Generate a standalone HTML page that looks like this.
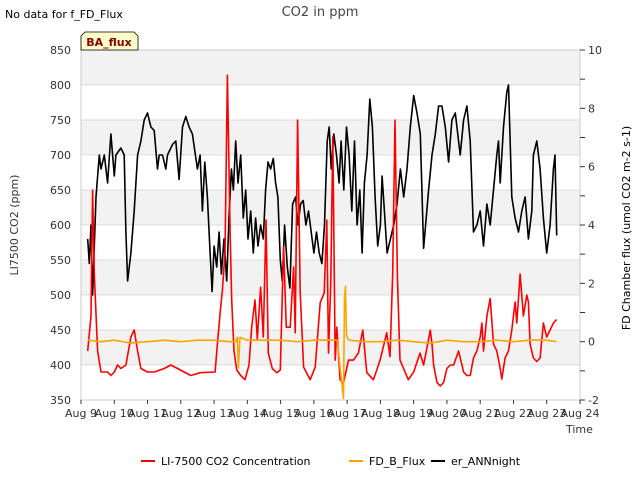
<!DOCTYPE html>
<html><head><meta charset="utf-8"><style>
body{margin:0;background:#fff;font-family:"Liberation Sans","DejaVu Sans",sans-serif;}
svg text{font-family:"DejaVu Sans","Liberation Sans",sans-serif;}
</style></head><body>
<svg id="chart" width="640" height="480" xmlns="http://www.w3.org/2000/svg">
<rect width="640" height="480" fill="#fff"/>
<g id="bands"></g>
<g id="grid"></g>
<rect x="81" y="50" width="499" height="350" fill="none" stroke="#ccc"/>
<g id="axes"></g>
<g id="series"></g>
<text x="320" y="16" font-size="13" fill="#444" text-anchor="middle">CO2 in ppm</text>
<text x="5" y="18" font-size="11" fill="#000">No data for f_FD_Flux</text>
<path d="M81,50 V36 l4,-4 h49 l4,4 V50 Z" fill="#ffffcc" stroke="#000" stroke-width="0.8"/>
<text x="109" y="46" font-size="11" font-weight="bold" fill="#8b0000" text-anchor="middle">BA_flux</text>
<text x="18" y="225" font-size="11" fill="#333" text-anchor="middle" transform="rotate(-90 18 225)">LI7500 CO2 (ppm)</text>
<text x="630" y="228" font-size="11" fill="#000" text-anchor="middle" transform="rotate(-90 630 228)">FD Chamber flux (umol CO2 m-2 s-1)</text>
<text x="566" y="433" font-size="11" fill="#333">Time</text>
<g>
<line x1="141" y1="461" x2="155" y2="461" stroke="#ff0000" stroke-width="2"/>
<text x="161" y="465" font-size="11" fill="#000">LI-7500 CO2 Concentration</text>
<line x1="349" y1="461" x2="363" y2="461" stroke="#ffa500" stroke-width="2"/>
<text x="369" y="465" font-size="11" fill="#000">FD_B_Flux</text>
<line x1="431" y1="461" x2="445" y2="461" stroke="#000" stroke-width="2"/>
<text x="451" y="465" font-size="11" fill="#000">er_ANNnight</text>
</g>
</svg>
<script>
const xTickLabels=["Aug 9","Aug 10","Aug 11","Aug 12","Aug 13","Aug 14","Aug 15","Aug 16","Aug 17","Aug 18","Aug 19","Aug 20","Aug 21","Aug 22","Aug 23","Aug 24"];
const leftTicks=[350,400,450,500,550,600,650,700,750,800,850];
const rightTicks=[-2,0,2,4,6,8,10];
const redT=[0.2,0.3,0.35,0.4,0.5,0.6,0.8,0.9,1.0,1.1,1.2,1.35,1.5,1.6,1.7,1.8,2.0,2.2,2.5,2.7,2.9,3.1,3.3,3.58,4.03,4.1,4.18,4.25,4.33,4.40,4.48,4.53,4.6,4.68,4.8,4.93,5.05,5.13,5.23,5.3,5.4,5.48,5.56,5.63,5.75,5.89,5.99,6.09,6.17,6.29,6.39,6.44,6.51,6.59,6.69,6.89,7.04,7.19,7.31,7.39,7.44,7.51,7.57,7.64,7.69,7.79,7.89,8.04,8.19,8.34,8.47,8.59,8.79,8.99,9.19,9.29,9.37,9.44,9.51,9.59,9.84,10.0,10.19,10.3,10.4,10.5,10.55,10.6,10.7,10.8,10.9,11.0,11.1,11.2,11.35,11.5,11.6,11.7,11.8,11.9,12.0,12.05,12.1,12.2,12.3,12.4,12.5,12.6,12.65,12.75,12.85,12.95,13.05,13.1,13.2,13.3,13.4,13.45,13.5,13.6,13.7,13.8,13.9,14.0,14.1,14.2,14.3];
const redV=[420,470,650,530,420,390,390,385,390,400,395,400,440,450,420,395,390,390,395,400,395,390,385,389,390,430,474,507,560,814,597,493,420,393,385,379,400,454,493,437,511,440,607,417,395,389,393,569,454,454,540,446,750,503,397,379,397,489,503,607,417,521,726,407,454,379,374,407,407,417,450,389,379,407,446,412,531,750,526,407,379,390,417,400,425,450,430,400,375,370,375,395,400,400,420,390,385,385,410,420,440,460,420,470,495,430,420,395,380,410,420,450,490,460,530,470,500,490,430,410,405,410,460,440,450,460,465];
const orangeT=[0.2,0.6,1.0,1.5,2.0,2.5,3.0,3.5,4.0,4.5,4.65,4.7,4.73,4.78,5.0,5.5,6.0,6.5,7.0,7.7,7.8,7.89,7.92,7.95,7.98,8.05,8.5,9.0,9.5,10.0,10.5,11.0,11.5,12.0,12.5,13.0,13.5,14.0,14.3];
const orangeV=[0.05,0.0,0.05,-0.05,0.0,0.05,0.0,0.05,0.05,0.0,0.0,0.15,-0.9,0.15,0.05,0.05,0.05,0.0,0.05,0.05,-1.0,-1.95,1.5,1.9,0.2,0.05,0.0,0.0,0.05,0.0,-0.05,0.05,0.0,0.0,0.05,0.0,0.05,0.05,0.0];
const blackT=[0.2,0.25,0.3,0.35,0.45,0.55,0.6,0.7,0.8,0.9,1.0,1.05,1.2,1.3,1.35,1.4,1.5,1.6,1.7,1.8,1.9,2.0,2.1,2.2,2.3,2.35,2.45,2.55,2.6,2.75,2.85,2.95,3.05,3.15,3.25,3.35,3.5,3.58,3.65,3.72,3.8,3.88,3.94,4.0,4.08,4.15,4.22,4.3,4.38,4.45,4.52,4.58,4.65,4.72,4.8,4.88,4.95,5.02,5.1,5.18,5.25,5.32,5.4,5.48,5.55,5.62,5.7,5.78,5.85,5.92,5.99,6.05,6.12,6.2,6.28,6.36,6.45,6.52,6.6,6.68,6.76,6.84,6.92,7.0,7.08,7.16,7.24,7.32,7.4,7.46,7.52,7.6,7.68,7.76,7.82,7.9,7.98,8.06,8.14,8.22,8.3,8.38,8.45,8.52,8.6,8.68,8.76,8.84,8.92,9.0,9.05,9.12,9.2,9.3,9.4,9.5,9.6,9.7,9.8,9.9,10.0,10.1,10.2,10.3,10.45,10.55,10.65,10.75,10.85,10.95,11.05,11.15,11.25,11.4,11.5,11.6,11.7,11.8,11.9,12.0,12.1,12.2,12.3,12.4,12.5,12.55,12.6,12.7,12.8,12.85,12.95,13.05,13.15,13.25,13.35,13.45,13.55,13.6,13.7,13.8,13.9,14.0,14.1,14.2,14.25,14.3];
const blackV=[3.52,2.68,4.0,1.6,4.96,6.4,5.92,6.4,5.44,7.12,5.68,6.4,6.64,6.4,3.76,2.08,3.04,4.48,6.4,6.88,7.6,7.84,7.36,7.24,5.92,6.4,6.4,5.92,6.4,6.76,6.88,5.56,7.36,7.72,7.36,7.12,5.92,6.4,4.48,6.16,4.96,3.04,1.72,3.28,2.56,3.76,2.32,3.52,2.08,4.24,5.92,5.2,6.88,5.44,6.4,4.24,5.2,3.52,4.48,3.04,4.24,3.28,4.0,3.52,5.2,6.16,5.92,6.28,5.44,4.96,2.8,2.08,4.0,2.56,1.84,4.72,4.96,4.0,4.72,4.84,4.0,4.48,3.76,3.04,3.76,3.04,2.68,4.0,6.88,7.36,5.92,7.12,6.4,5.44,6.88,5.2,7.36,6.4,4.48,6.88,4.0,5.2,3.04,5.44,6.4,8.32,7.36,4.96,3.28,4.0,5.68,4.48,3.04,3.52,4.0,4.72,5.92,4.96,5.92,7.36,8.44,7.84,7.12,3.2,5.2,6.4,7.12,8.08,8.08,7.36,6.16,7.6,7.84,6.4,7.6,8.08,6.88,3.76,4.0,4.48,3.28,4.72,4.0,5.2,6.4,6.88,5.44,7.36,8.56,8.8,4.96,4.24,3.76,4.48,4.96,3.52,4.48,6.4,6.88,5.92,4.24,3.04,4.0,5.92,6.4,3.64];

const X0=81,X1=580,Y0=50,Y1=400;
const xs=d=>X0+(d/15)*(X1-X0);
const yL=v=>Y1-(v-350)/500*(Y1-Y0);
const yR=v=>Y1-(v+2)/12*(Y1-Y0);
const NS="http://www.w3.org/2000/svg";
function mk(tag,attrs,parent){const e=document.createElementNS(NS,tag);for(const k in attrs)e.setAttribute(k,attrs[k]);parent.appendChild(e);return e;}
const bands=document.getElementById('bands'),grid=document.getElementById('grid'),axes=document.getElementById('axes'),series=document.getElementById('series');
for(let i=0;i<leftTicks.length-1;i++){
  const lo=leftTicks[i],hi=leftTicks[i+1];
  if(i%2===1){const r=mk('rect',{x:X0,y:yL(hi),width:X1-X0,height:yL(lo)-yL(hi),fill:'#f2f2f2'},bands);
  
  }
}
leftTicks.forEach(v=>{
  const l=mk('line',{x1:X0,x2:X1,y1:yL(v),y2:yL(v),stroke:'#dcdcdc','stroke-width':1},grid);
  
  
  const t=mk('text',{x:X0-10,y:yL(v)+4,'font-size':11,fill:'#333','text-anchor':'end'},axes);
  t.textContent=v;
  
  
});
for(let v=-2;v<=10;v++){
  const tk=mk('line',{x1:X1,x2:X1+5,y1:yR(v),y2:yR(v),stroke:'#333'},axes);
  
  
}
rightTicks.forEach(v=>{
  const t=mk('text',{x:X1+8,y:yR(v)+4,'font-size':11,fill:'#333'},axes);
  t.textContent=v;
  
  
});
xTickLabels.forEach((s,i)=>{
  const tk=mk('line',{x1:xs(i),x2:xs(i),y1:Y1,y2:Y1+4,stroke:'#333'},axes);
  
  
  const t=mk('text',{x:xs(i),y:Y1+17,'font-size':11,fill:'#333','text-anchor':'middle'},axes);
  t.textContent=s;
  
  
});
function line(T,V,yf,color,name){
  const d=T.map((t,i)=>(i?'L':'M')+xs(t).toFixed(1)+','+yf(V[i]).toFixed(1)).join('');
  const p=mk('path',{d:d,fill:'none',stroke:color,'stroke-width':1.6,'stroke-linejoin':'round'},series);
  
  
}
line(blackT,blackV,yR,'#000','er-annnight-line');
line(redT,redV,yL,'#ff0000','li7500-co2-line');
line(orangeT,orangeV,yR,'#ffa500','fd-b-flux-line');
</script>
</body></html>
